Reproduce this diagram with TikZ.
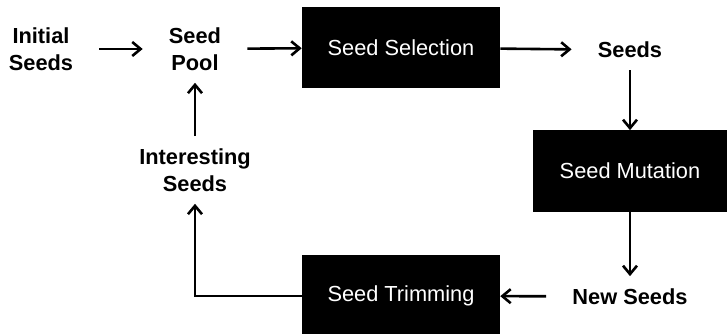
\documentclass[tikz,border=0pt]{standalone}
\usepackage{fontspec}
\setmainfont{Liberation Sans}
\usetikzlibrary{arrows.meta}
\tikzset{
	lbl/.style={font=\fontsize{15.5}{19.2}\selectfont\bfseries, align=center, inner xsep=0.65cm, inner ysep=0.3cm},
	blk/.style={fill=black, text=white, font=\fontsize{15.5}{19.2}\selectfont, minimum width=4.95cm, minimum height=2.03cm, inner sep=0},
	flow/.style={line width=0.065cm, -{Straight Barb[length=2.1mm,width=3.5mm]}}
}

\begin{document}
\begin{tikzpicture}
		%%%%% START %%%%%
		\useasboundingbox (0, 0) rectangle (18.175, 8.35);
		
		\node[lbl] (init) at (1.025, 7.125) {Initial\\Seeds};
		\node[lbl] (pool) at (4.875, 7.125) {Seed\\Pool};
		\node[blk] (select) at (10.025, 7.16) {Seed Selection};
		\node[lbl] (seeds) at (15.75, 7.1) {Seeds};
		
		\node[blk, minimum width=4.85cm] (mutate) at (15.75, 4.075) {Seed Mutation};
		\node[lbl] (interest) at (4.875, 4.1) {Interesting\\Seeds};
		
		\node[lbl] (newseeds) at (15.75, 0.94) {New Seeds};
		\node[blk] (trim) at (10.025, 0.95) {Seed Trimming};
		
		\draw[flow] (init) -- (pool);
		\draw[flow] (pool) -- (select);
		\draw[flow] (select) -- (seeds);
		\draw[flow] (seeds) -- (mutate);
		\draw[flow] (mutate) -- (newseeds);
		\draw[flow] (newseeds) -- (trim);
		\draw[flow] (trim.west) -| (interest.south);
		\draw[flow] (interest) -- (pool);
		%%%%% END %%%%%
	\end{tikzpicture}
\end{document}
